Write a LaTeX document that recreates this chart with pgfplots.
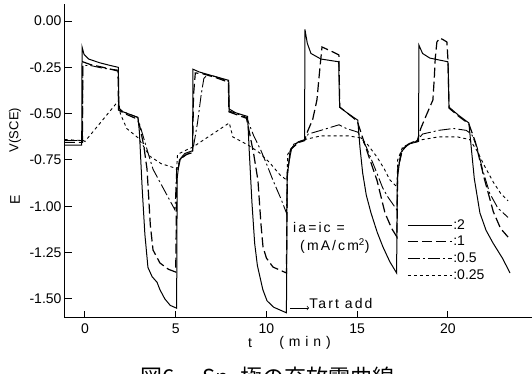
\documentclass[border=0pt]{standalone}
\usepackage{fontspec}
\setmainfont{Liberation Sans}
\newfontfamily\cjk{Noto Sans CJK JP}
\newfontfamily\spaced[LetterSpace=15]{Liberation Sans}
\newfontfamily\wide[LetterSpace=35]{Liberation Sans}
\usepackage{pgfplots}
\pgfplotsset{compat=1.18}
\begin{document}
\begin{tikzpicture}
\begin{axis}[
  at={(0,0)}, anchor=south west,
  scale only axis, width=467pt, height=314pt,
  xmin=-1.1, xmax=24.63, ymin=-1.603, ymax=0.092,
  axis x line*=bottom, axis y line*=left,
  axis line style={-, line width=1pt},
  xtick={0,5,10,15,20},
  ytick={-1.5,-1.25,-1,-0.75,-0.5,-0.25,0},
  tick align=inside, major tick length=7pt,
  tick style={line width=1pt, black},
  /pgf/number format/assume math mode=true,
  yticklabel style={/pgf/number format/.cd, fixed, fixed zerofill, precision=2},
  xticklabel style={yshift=-2pt},
  ticklabel style={font=\fontsize{14}{16}\selectfont},
  legend style={draw=none, fill=none, at={(axis cs:17.74,-1.065)}, anchor=north west,
    font=\fontsize{14}{16}\selectfont, row sep=3.5pt, inner sep=0pt,
    nodes={inner sep=1pt}},
  legend cell align=left,
  legend image code/.code={\draw[#1] (0pt,0pt) -- (44pt,0pt);},
  every axis plot/.append style={black},
]
\addplot[line width=1pt] coordinates {
(-1.1,-0.67) (-0.18,-0.67) (-0.16,-0.14) (-0.05,-0.18) (0.2,-0.205) (0.8,-0.225) (1.4,-0.24) (1.84,-0.25) (1.87,-0.47) (2.1,-0.49) (2.5,-0.505) (2.92,-0.52) (3.0,-0.60) (3.15,-0.90) (3.3,-1.15) (3.47,-1.33) (3.7,-1.38) (3.97,-1.41) (4.13,-1.45) (4.4,-1.50) (4.7,-1.535) (5.05,-1.55) (5.08,-0.85) (5.2,-0.75) (5.5,-0.715) (5.93,-0.70) (5.95,-0.26) (6.3,-0.275) (7.0,-0.295) (7.92,-0.32) (7.95,-0.475) (8.3,-0.495) (8.96,-0.515) (9.05,-0.70) (9.2,-0.98) (9.35,-1.2) (9.5,-1.32) (9.8,-1.45) (10.03,-1.51) (10.4,-1.545) (11.1,-1.575) (11.14,-0.85) (11.3,-0.70) (11.7,-0.655) (12.1,-0.64) (12.12,-0.045) (12.25,-0.12) (12.45,-0.175) (13.0,-0.205) (13.98,-0.22) (14.03,-0.465) (14.5,-0.50) (15.03,-0.535) (15.15,-0.68) (15.3,-0.82) (15.5,-0.94) (15.76,-1.036) (16.1,-1.14) (16.42,-1.22) (16.8,-1.30) (17.17,-1.36) (17.21,-0.85) (17.4,-0.71) (17.8,-0.665) (18.38,-0.65) (18.40,-0.13) (18.6,-0.175) (19.0,-0.20) (20.0,-0.22) (20.06,-0.465) (20.6,-0.51) (21.15,-0.55) (21.3,-0.70) (21.45,-0.85) (21.76,-1.036) (22.1,-1.13) (22.48,-1.198) (23.0,-1.28) (23.42,-1.36)
};
\addlegendentry{:2}
\addplot[line width=1.2pt, dash pattern=on 10pt off 4pt] coordinates {
(-1.1,-0.655) (-0.14,-0.655) (-0.12,-0.22) (0.3,-0.235) (1.0,-0.25) (1.82,-0.27) (1.85,-0.48) (2.2,-0.50) (2.9,-0.53) (3.05,-0.58) (3.25,-0.68) (3.42,-0.80) (3.6,-1.1) (3.75,-1.236) (4.13,-1.306) (4.6,-1.34) (5.0,-1.355) (5.06,-0.83) (5.25,-0.745) (5.6,-0.72) (5.93,-0.71) (5.98,-0.40) (6.08,-0.28) (6.5,-0.285) (7.2,-0.305) (7.9,-0.33) (7.93,-0.49) (8.9,-0.525) (9.1,-0.62) (9.3,-0.72) (9.53,-0.86) (9.7,-1.1) (9.81,-1.22) (10.0,-1.28) (10.36,-1.328) (11.1,-1.36) (11.15,-0.82) (11.35,-0.69) (11.8,-0.655) (12.1,-0.645) (12.23,-0.604) (12.55,-0.53) (12.78,-0.426) (12.9,-0.30) (12.95,-0.248) (13.06,-0.14) (13.66,-0.167) (13.99,-0.183) (14.04,-0.465) (14.5,-0.50) (15.0,-0.54) (15.2,-0.60) (15.6,-0.72) (16.09,-0.86) (16.53,-1.036) (16.9,-1.12) (17.19,-1.166) (17.23,-0.80) (17.5,-0.69) (17.9,-0.66) (18.3,-0.65) (18.5,-0.58) (18.8,-0.51) (19.17,-0.426) (19.25,-0.30) (19.3,-0.20) (19.39,-0.113) (19.56,-0.092) (19.72,-0.10) (19.94,-0.113) (20.0,-0.21) (20.06,-0.47) (20.6,-0.515) (21.15,-0.555) (21.5,-0.65) (22.0,-0.85) (22.5,-1.03) (22.9,-1.12) (23.31,-1.166)
};
\addlegendentry{:1}
\addplot[line width=0.9pt, dash pattern=on 12pt off 3pt on 2pt off 3pt] coordinates {
(-1.1,-0.645) (-0.14,-0.645) (-0.12,-0.24) (0.3,-0.24) (1.0,-0.255) (1.84,-0.265) (1.86,-0.48) (2.9,-0.52) (3.2,-0.62) (3.5,-0.72) (3.75,-0.80) (4.3,-0.90) (4.96,-1.02) (5.05,-0.80) (5.3,-0.74) (5.6,-0.72) (5.93,-0.705) (6.2,-0.55) (6.4,-0.40) (6.55,-0.31) (6.75,-0.29) (7.2,-0.30) (7.91,-0.325) (7.94,-0.485) (8.9,-0.52) (9.3,-0.62) (9.7,-0.70) (10.0,-0.77) (10.36,-0.86) (10.8,-0.96) (11.1,-1.036) (11.16,-0.80) (11.4,-0.68) (11.8,-0.65) (12.1,-0.645) (12.3,-0.61) (13.0,-0.59) (14.0,-0.56) (14.4,-0.58) (15.04,-0.60) (15.5,-0.68) (16.0,-0.80) (16.4,-0.90) (16.69,-0.95) (17.19,-1.02) (17.24,-0.80) (17.5,-0.69) (18.0,-0.655) (18.3,-0.645) (18.6,-0.61) (19.5,-0.59) (20.3,-0.58) (21.0,-0.59) (21.3,-0.61) (21.6,-0.68) (21.9,-0.80) (22.3,-0.93) (22.75,-1.01) (23.31,-1.06)
};
\addlegendentry{:0.5}
\addplot[line width=0.9pt, dash pattern=on 3pt off 3pt] coordinates {
(-1.1,-0.64) (-0.1,-0.645) (0.0,-0.65) (1.85,-0.43) (1.95,-0.50) (2.3,-0.58) (2.92,-0.63) (3.58,-0.73) (4.2,-0.77) (4.85,-0.79) (5.05,-0.80) (5.1,-0.72) (5.5,-0.70) (5.95,-0.68) (7.95,-0.55) (8.15,-0.626) (9.0,-0.67) (9.6,-0.71) (10.19,-0.766) (10.74,-0.83) (11.13,-0.86) (11.17,-0.72) (11.5,-0.665) (12.1,-0.64) (13.0,-0.62) (14.5,-0.62) (15.15,-0.63) (15.6,-0.67) (16.09,-0.734) (16.5,-0.80) (16.8,-0.858) (17.19,-0.896) (17.23,-0.75) (17.5,-0.68) (18.3,-0.645) (19.5,-0.625) (20.5,-0.625) (21.2,-0.64) (21.6,-0.70) (22.0,-0.78) (22.5,-0.87) (22.9,-0.93) (23.31,-0.97)
};
\addlegendentry{:0.25}
\node[anchor=west, inner sep=0pt, font=\spaced\fontsize{14}{16}\selectfont] at (axis cs:11.46,-1.112) {ia=ic =};
\node[anchor=west, inner sep=0pt, font=\spaced\fontsize{14}{16}\selectfont] at (axis cs:11.85,-1.214) {(mA/cm\textsuperscript{2})};
\draw[->, line width=0.7pt] (axis cs:11.29,-1.549) -- (axis cs:12.35,-1.549);
\node[anchor=west, inner sep=0pt, font=\spaced\fontsize{14}{16}\selectfont] at (axis cs:12.35,-1.525) {Tart add};
\end{axis}
\node[font=\fontsize{14}{16}\selectfont] at (185pt,-25pt) {t};
\node[font=\wide\fontsize{14}{16}\selectfont] at (240pt,-25pt) {(min)};
\node[rotate=90, font=\fontsize{14}{16}\selectfont] at (-50pt,118pt) {E};
\node[rotate=90, font=\fontsize{13}{15}\selectfont] at (-50pt,188pt) {V(SCE)};
\node[anchor=base west, inner sep=0pt, font=\cjk\fontsize{22}{24}\selectfont] at (75pt,-67pt) {図6\hspace{28pt}Sn\hspace{12pt}極の充放電曲線};
\pgfresetboundingbox
\useasboundingbox (-65pt,-56pt) rectangle (467pt,318pt);
\end{tikzpicture}
\end{document}
